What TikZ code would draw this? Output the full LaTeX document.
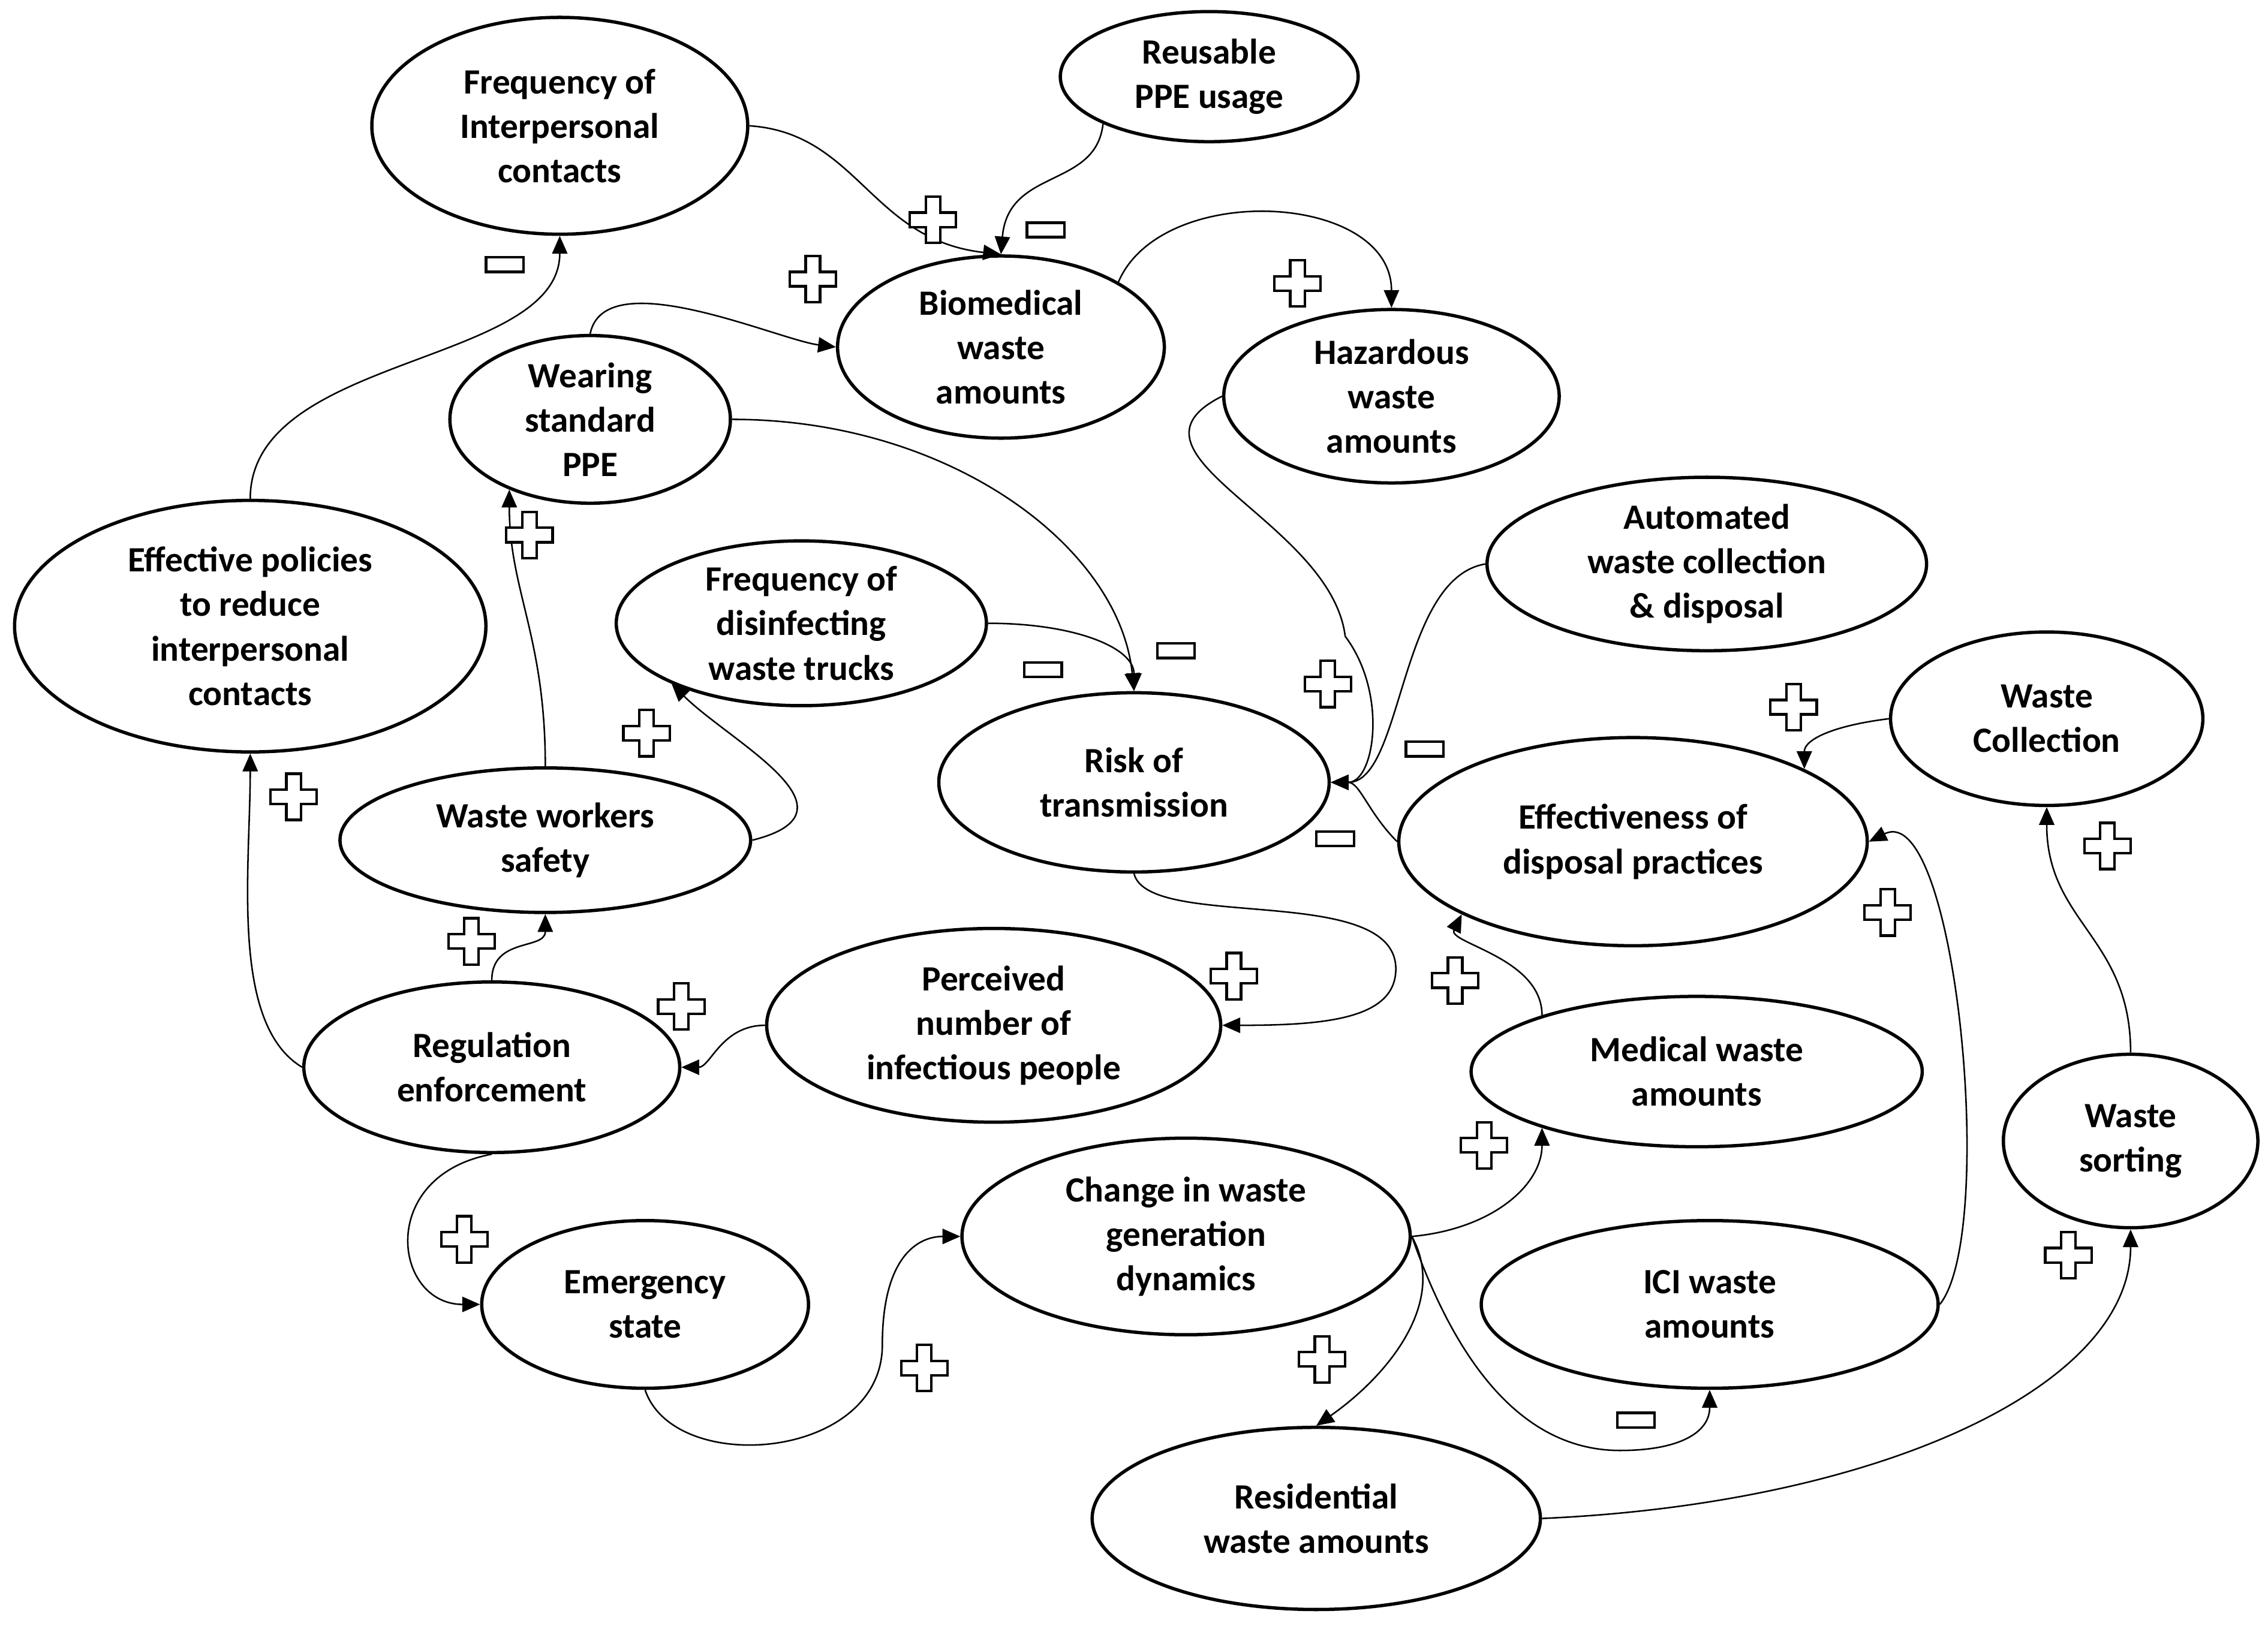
\documentclass[tikz,border=0pt]{standalone}
\usepackage{fontspec}
\setmainfont{Carlito}
\usetikzlibrary{shapes.geometric,arrows.meta}
\begin{document}
\begin{tikzpicture}[x={(0.02cm,0)},y={(0,-0.02cm)},
  v/.style={ellipse,draw,line width=1.3pt,inner sep=0pt,align=center,font=\bfseries\fontsize{14}{17.5}\selectfont},
  c/.style={-{Triangle[length=7pt,width=6pt]},line width=0.6pt},
  plus/.pic={\draw[line width=1pt,fill=white] (-16,-5)--(-5,-5)--(-5,-16)--(5,-16)--(5,-5)--(16,-5)--(16,5)--(5,5)--(5,16)--(-5,16)--(-5,5)--(-16,5)--cycle;},
  minus/.pic={\draw[line width=1pt,fill=white] (-13,-5) rectangle (13,5);}]
\useasboundingbox (0,0) rectangle (1568,1124);
\def\E#1#2#3#4#5#6{\node[v,minimum width=#4*0.04cm,minimum height=#5*0.04cm] (#1) at (#2,#3) {#6};}
\E{fi}{387}{87}{130}{75}{Frequency of\\Interpersonal\\contacts}
\E{ru}{836}{53}{103}{45}{Reusable\\PPE usage}
\E{bw}{692}{240}{113}{63}{Biomedical\\waste\\amounts}
\E{hw}{962}{274}{116}{60}{Hazardous\\waste\\amounts}
\E{ws}{408}{290}{97}{58}{Wearing\\standard\\PPE}
\E{ep}{173}{433}{163}{87}{Effective policies\\to reduce\\interpersonal\\contacts}
\E{fd}{554}{431}{128}{57}{Frequency of\\disinfecting\\waste trucks}
\E{au}{1180}{390}{152}{60}{Automated\\waste collection\\\& disposal}
\E{rt}{784}{541}{135}{62}{Risk of\\transmission}
\E{wc}{1415}{497}{108}{60}{Waste\\Collection}
\E{ed}{1129}{582}{162}{72}{Effectiveness of\\disposal practices}
\E{wws}{377}{581}{142}{50}{Waste workers\\safety}
\E{pn}{687}{709}{157}{67}{Perceived\\number of\\infectious people}
\E{re}{340}{738}{130}{59}{Regulation\\enforcement}
\E{mw}{1173}{741}{156}{52}{Medical waste\\amounts}
\E{wso}{1473}{789}{88}{60}{Waste\\sorting}
\E{cw}{820}{855}{155}{68}{Change in waste\\generation\\dynamics}
\E{es}{446}{902}{113}{58}{Emergency\\state}
\E{ici}{1182}{902}{158}{58}{ICI waste\\amounts}
\E{rw}{910}{1050}{155}{63}{Residential\\waste amounts}

\draw[c] (fi.east) .. controls +(75,5) and +(-90,-10) .. (bw.north);
\draw[c] (ru.204) .. controls +(-5,45) and +(5,-60) .. (bw.north);
\draw[c] (bw.29) .. controls +(30,-70) and +(0,-80) .. (hw.north);
\draw[c] (ws.north) .. controls +(10,-50) and +(-40,-5) .. (bw.west);
\draw[c] (ws.east) .. controls +(150,0) and +(-10,-100) .. (rt.north);
\draw[c] (fd.east) .. controls +(60,0) and +(0,-30) .. (rt.north);
\draw[c] (hw.west) .. controls +(-80,40) and +(-10,-80) .. (930,440) .. controls +(30,40) and +(30,0) .. (rt.east);
\draw[c] (au.west) .. controls +(-60,10) and +(50,0) .. (rt.east);
\draw[c] (ed.west) .. controls +(-20,-20) and +(20,0) .. (rt.east);
\draw[c] (ep.north) .. controls +(0,-100) and +(0,90) .. (fi.south);
\draw[c] (wws.north) .. controls +(0,-90) and +(0,70) .. (ws.221);
\draw[c] (wws.east) .. controls +(80,-20) and +(40,40) .. (fd.205);
\draw[c] (re.west) .. controls +(-50,-30) and +(0,80) .. (ep.south);
\draw[c] (re.north) .. controls +(0,-30) and +(0,25) .. (wws.south);
\draw[c] (pn.west) .. controls +(-30,0) and +(20,0) .. (re.east);
\draw[c] (rt.south) .. controls +(10,40) and +(0,-60) .. (965,670) .. controls +(0,35) and +(70,0) .. (pn.east);
\draw[c] (re.south) .. controls +(-80,15) and +(-60,0) .. (es.west);
\draw[c] (es.south) .. controls +(20,60) and +(0,80) .. (610,930) .. controls +(0,-60) and +(-30,0) .. (cw.west);
\draw[c] (cw.east) .. controls +(55,-5) and +(0,40) .. (mw.200);
\draw[c] (cw.east) .. controls +(25,45) and +(50,-35) .. (rw.north);
\draw[c] (cw.east) .. controls +(35,100) and +(-60,0) .. (1120,1003) .. controls +(40,0) and +(0,30) .. (ici.south);
\draw[c] (mw.160) .. controls +(0,-40) and +(-10,20) .. (ed.203);
\draw[c] (ici.east) .. controls +(40,-50) and +(60,-30) .. (ed.east);
\draw[c] (wc.west) .. controls +(-40,5) and +(0,-20) .. (ed.23);
\draw[c] (wso.north) .. controls +(0,-80) and +(0,80) .. (wc.south);
\draw[c] (rw.east) .. controls +(230,-10) and +(0,110) .. (wso.south);

\foreach \p in {(645,152),(562,193),(897,196),(366,370),(447,507),(918,473),(1240,489),(203,551),(326,651),(471,696),(853,675),(1006,678),(1305,631),(1457,585),(1026,792),(321,857),(914,940),(639,946),(1430,868)}
  \pic at \p {plus};
\foreach \p in {(349,183),(723,159),(813,450),(721,463),(985,518),(923,580),(1131,982)}
  \pic at \p {minus};
\end{tikzpicture}
\end{document}
